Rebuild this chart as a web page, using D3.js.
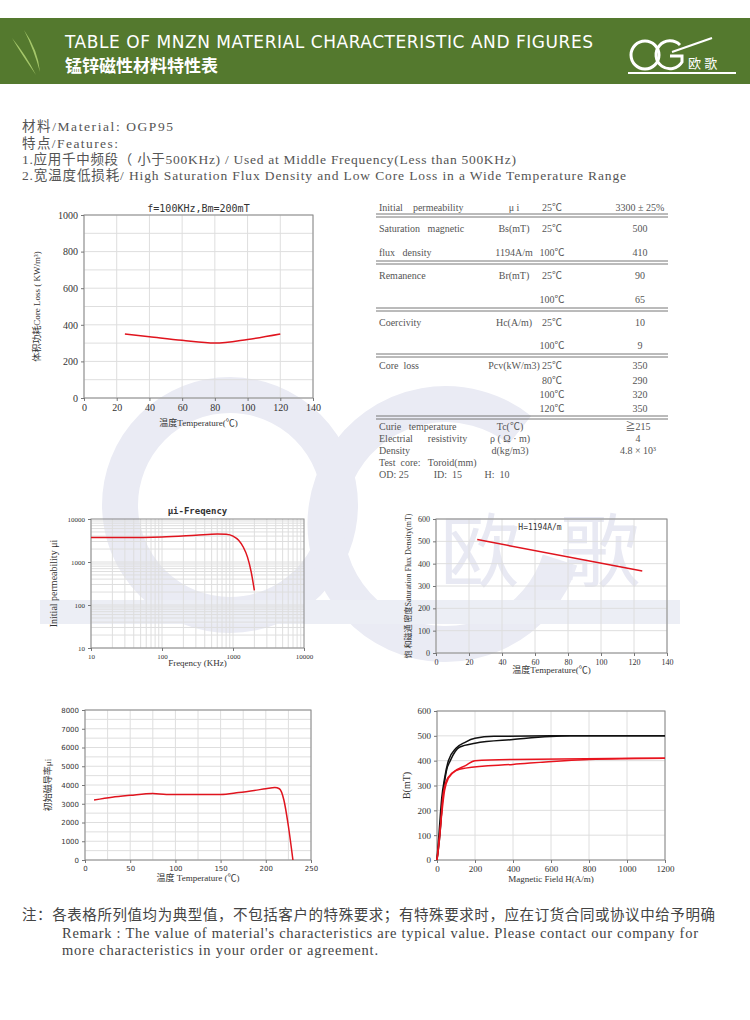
<!DOCTYPE html>
<meta charset="utf-8">
<style>
body { margin: 0; background: #fff; }
svg text { font-family: "Liberation Serif", "Noto Sans CJK SC", serif; fill: #333; white-space: pre; }
.grid line { stroke: #dedede; }
.axis path, .axis line { stroke: #777; }
.axis text { fill: #333; }
</style>
<body>
<script src="https://cdn.jsdelivr.net/npm/d3@7"></script>
<script>
var width = 750, height = 1020;

// core loss vs temperature
var lossTemp = [25, 40, 60, 80, 100, 120],
    lossVal = [350, 335, 315, 300, 320, 350];
// permeability vs frequency (KHz)
var freq = [10, 30, 100, 300, 600, 800, 1000, 1200, 1400, 1600, 1800, 2000],
    freqMu = [3700, 3700, 3800, 4200, 4500, 4400, 4000, 3200, 2200, 1300, 600, 220];
// saturation flux density vs temperature
var bsTemp = [25, 125],
    bsVal = [508, 367];
// permeability vs temperature
var muTemp = [10, 30, 50, 75, 90, 120, 150, 170, 200, 210, 215, 220, 225, 230],
    muVal = [3200, 3350, 3450, 3550, 3500, 3500, 3500, 3600, 3800, 3870, 3800, 3200, 1800, 0];
// B-H curves
var bh25UpH = [0, 10, 25, 40, 60, 100, 150, 200, 300, 600, 1200],
    bh25UpB = [0, 100, 250, 330, 400, 450, 475, 490, 498, 500, 500],
    bh25LoH = [0, 15, 30, 50, 70, 120, 200, 400, 700, 1200],
    bh25LoB = [0, 100, 250, 360, 400, 455, 470, 485, 500, 500],
    bh100UpH = [0, 15, 30, 50, 80, 150, 200, 400, 1200],
    bh100UpB = [0, 100, 250, 320, 350, 380, 400, 405, 410],
    bh100LoH = [0, 20, 40, 60, 100, 150, 400, 800, 1200],
    bh100LoB = [0, 150, 280, 330, 360, 370, 385, 405, 410];

var tableRows = [
  ["Initial    permeability", "\u03bc i", "25\u2103", "3300 \u00b1 25%", 207],
  ["Saturation   magnetic", "Bs(mT)", "25\u2103", "500", 228],
  ["flux   density", "1194A/m", "100\u2103", "410", 252],
  ["Remanence", "Br(mT)", "25\u2103", "90", 275],
  ["", "", "100\u2103", "65", 299],
  ["Coercivity", "Hc(A/m)", "25\u2103", "10", 322],
  ["", "", "100\u2103", "9", 345],
  ["Core  loss", "Pcv(kW/m3)", "25\u2103", "350", 365],
  ["", "", "80\u2103", "290", 380],
  ["", "", "100\u2103", "320", 394],
  ["", "", "120\u2103", "350", 408]
];
var tableRules = [214, 261, 308, 354, 416];
var extraRows = [
  ["Curie   temperature", "Tc(\u2103)", "\u2267215", 426],
  ["Electrial      resistivity", "\u03c1 ( \u03a9 \u00b7 m)", "4", 438],
  ["Density", "d(kg/m3)", "4.8 \u00d7 10\u00b3", 450],
  ["Test  core:   Toroid(mm)", "", "", 462],
  ["OD: 25          ID:  15         H:  10", "", "", 474]
];

var svg = d3.select("body").append("svg").attr("width", width).attr("height", height);

// watermark
var wm = svg.append("g").attr("fill", "none").attr("stroke", "#eaebf4");
wm.append("circle").attr("cx", 230).attr("cy", 505).attr("r", 110).attr("stroke-width", 36);
wm.append("path").attr("d", "M520,430 A120,120 0 1 0 560,560").attr("stroke-width", 36);
svg.append("rect").attr("x", 40).attr("y", 600).attr("width", 640).attr("height", 24).attr("fill", "#eceef5");
svg.append("text").attr("x", 440).attr("y", 580).attr("font-size", 80)
  .style("fill", "#e8e9f3").text("欧  歌");

// header
svg.append("rect").attr("x", 0).attr("y", 18).attr("width", width).attr("height", 66).attr("fill", "#54792e");
svg.append("path").attr("d", "M12,38 Q22,55 36,75 Q26,55 12,38Z M24,30 Q34,50 40,72 Q38,50 24,30Z").attr("fill", "#a5c76a");
svg.append("text").attr("x", 65).attr("y", 48).attr("font-size", 17).attr("textLength", 528)
  .style("font-family", "DejaVu Sans").style("fill", "#fff").text("TABLE OF MNZN MATERIAL CHARACTERISTIC AND FIGURES");
svg.append("text").attr("x", 65).attr("y", 72).attr("font-size", 17)
  .style("font-family", "Noto Sans CJK SC").style("font-weight", "bold").style("fill", "#fff").text("锰锌磁性材料特性表");
var logo = svg.append("g").attr("fill", "none").attr("stroke", "#fff").attr("stroke-width", 3);
logo.append("ellipse").attr("cx", 645).attr("cy", 55).attr("rx", 14).attr("ry", 14);
logo.append("path").attr("d", "M680,45 A14,14 0 1 0 682,62 L682,56 L670,56");
logo.append("path").attr("d", "M672,52 L712,38").attr("stroke-width", 2);
svg.append("line").attr("x1", 628).attr("x2", 736).attr("y1", 73).attr("y2", 73).attr("stroke", "#fff").attr("stroke-width", 2);
svg.append("text").attr("x", 688).attr("y", 68).attr("font-size", 13).style("fill", "#fff").text("欧 歌");

// intro text
var intro = [["材料/Material: OGP95", 131, 151], ["特点/Features:", 148, 96],
  ["1.应用千中频段（ 小于500KHz) / Used at Middle Frequency(Less than 500KHz)", 164, 494],
  ["2.宽温度低损耗/ High Saturation Flux Density and Low Core Loss in a Wide Temperature Range", 180, 604]];
svg.selectAll(".intro").data(intro).enter().append("text")
  .attr("x", 22).attr("y", function(d) { return d[1]; }).attr("textLength", function(d) { return d[2]; })
  .attr("font-size", 13.5).style("fill", "#555").text(function(d) { return d[0]; });

// table
var tb = svg.append("g").attr("font-size", 10);
tb.selectAll(".rule").data(tableRules).enter().append("g").each(function(y) {
  d3.select(this).append("line").attr("x1", 376).attr("x2", 668).attr("y1", y).attr("y2", y).attr("stroke", "#777");
  d3.select(this).append("line").attr("x1", 376).attr("x2", 668).attr("y1", y + 3).attr("y2", y + 3).attr("stroke", "#777");
});
tableRows.forEach(function(r) {
  tb.append("text").attr("x", 379).attr("y", r[4] + 4).text(r[0]).style("fill", "#555");
  tb.append("text").attr("x", 514).attr("y", r[4] + 4).attr("text-anchor", "middle").text(r[1]).style("fill", "#555");
  tb.append("text").attr("x", 552).attr("y", r[4] + 4).attr("text-anchor", "middle").text(r[2]).style("fill", "#555");
  tb.append("text").attr("x", 640).attr("y", r[4] + 4).attr("text-anchor", "middle").text(r[3]).style("fill", "#555");
});
extraRows.forEach(function(r) {
  tb.append("text").attr("x", 379).attr("y", r[3] + 4).text(r[0]).style("fill", "#555");
  tb.append("text").attr("x", 510).attr("y", r[3] + 4).attr("text-anchor", "middle").text(r[1]).style("fill", "#555");
  tb.append("text").attr("x", 638).attr("y", r[3] + 4).attr("text-anchor", "middle").text(r[2]).style("fill", "#555");
});

// generic chart
function chart(o) {
  var g = svg.append("g");
  var x = (o.xlog ? d3.scaleLog() : d3.scaleLinear()).domain(o.xd).range([o.x0, o.x1]);
  var y = (o.ylog ? d3.scaleLog() : d3.scaleLinear()).domain(o.yd).range([o.y1, o.y0]);
  var grid = g.append("g").attr("class", "grid");
  grid.selectAll(".vx").data(o.gx).enter().append("line")
    .attr("x1", x).attr("x2", x).attr("y1", o.y0).attr("y2", o.y1);
  grid.selectAll(".hy").data(o.gy).enter().append("line")
    .attr("y1", y).attr("y2", y).attr("x1", o.x0).attr("x2", o.x1);
  g.append("rect").attr("x", o.x0).attr("y", o.y0).attr("width", o.x1 - o.x0).attr("height", o.y1 - o.y0)
    .attr("fill", "none").attr("stroke", "#888");
  var xa = d3.axisBottom(x).tickValues(o.xtv).tickSize(3).tickFormat(d3.format("d"));
  var ya = d3.axisLeft(y).tickValues(o.ytv).tickSize(3).tickFormat(d3.format("d"));
  g.append("g").attr("class", "axis").attr("transform", "translate(0," + o.y1 + ")").call(xa)
    .call(function(s) { s.select(".domain").remove(); })
    .selectAll("text").attr("font-size", o.fs).style("font-family", o.ff || null);
  g.append("g").attr("class", "axis").attr("transform", "translate(" + o.x0 + ",0)").call(ya)
    .call(function(s) { s.select(".domain").remove(); })
    .selectAll("text").attr("font-size", o.fs).style("font-family", o.ff || null);
  var line = d3.line().x(function(d) { return x(d[0]); }).y(function(d) { return y(d[1]); });
  o.series.forEach(function(s) {
    line.curve(s.linear ? d3.curveLinear : d3.curveMonotoneX);
    g.append("path").datum(d3.zip(s.x, s.y)).attr("d", line)
      .attr("fill", "none").attr("stroke", s.c).attr("stroke-width", 1.5);
  });
  if (o.title) g.append("text").attr("x", o.tx || (o.x0 + o.x1) / 2).attr("y", o.ty)
    .attr("text-anchor", "middle").attr("font-size", o.tfs || 10).style("font-family", "DejaVu Sans Mono")
    .style("font-weight", o.tb ? "bold" : null).text(o.title);
  g.append("text").attr("x", (o.x0 + o.x1) / 2).attr("y", o.xly).attr("text-anchor", "middle")
    .attr("font-size", 9).text(o.xl);
  g.append("text").attr("transform", "translate(" + o.ylx + "," + ((o.y0 + o.y1) / 2) + ") rotate(-90)")
    .attr("text-anchor", "middle").attr("font-size", o.ylfs || 9).text(o.yl);
  return g;
}

chart({ x0: 84, x1: 313, y0: 215, y1: 398, xd: [0, 140], yd: [0, 1000],
  xtv: d3.range(0, 141, 20), ytv: d3.range(0, 1001, 200), gx: d3.range(0, 141, 20), gy: d3.range(0, 1001, 100),
  series: [{ x: lossTemp, y: lossVal, c: "#e0141e" }], fs: 10,
  title: "f=100KHz,Bm=200mT", ty: 212, xl: "温度Temperature(℃)", xly: 426,
  yl: "体积功耗Core Loss ( KW/m³)", ylx: 40 });

var fgx = [], fgy = [];
[10, 100, 1000].forEach(function(b) { for (var i = 1; i < 10; i++) { fgx.push(b * i); fgy.push(b * i); } });
chart({ x0: 91, x1: 304, y0: 519, y1: 648, xd: [10, 10000], yd: [10, 10000], xlog: true, ylog: true,
  xtv: [10, 100, 1000, 10000], ytv: [10, 100, 1000, 10000], gx: fgx, gy: fgy,
  series: [{ x: freq, y: freqMu, c: "#e0141e" }], fs: 7,
  title: "μi-Freqency", ty: 514, tb: true, tfs: 9, xl: "Freqency (KHz)", xly: 666,
  yl: "Initial permeability μi", ylx: 57, ylfs: 10 });

chart({ x0: 436, x1: 667, y0: 519, y1: 653, xd: [0, 140], yd: [0, 600],
  xtv: d3.range(0, 141, 20), ytv: d3.range(0, 601, 100), gx: d3.range(0, 141, 20), gy: d3.range(0, 601, 100),
  series: [{ x: bsTemp, y: bsVal, c: "#e0141e", linear: true }], fs: 8,
  title: "H=1194A/m", tx: 540, ty: 530, tfs: 8, xl: "温度Temperature(℃)", xly: 673,
  yl: "饱 和磁通 密度Saturation Flux Density(mT)", ylx: 411, ylfs: 8 });

chart({ x0: 85, x1: 311, y0: 710, y1: 860, xd: [0, 250], yd: [0, 8000],
  xtv: d3.range(0, 251, 50), ytv: d3.range(0, 8001, 1000), gx: d3.range(0, 251, 25), gy: d3.range(0, 8001, 500),
  series: [{ x: muTemp, y: muVal, c: "#e0141e" }], fs: 7, ff: "DejaVu Sans",
  xl: "温度 Temperature (℃)", xly: 881, yl: "初始磁导率μi", ylx: 51 });

chart({ x0: 437, x1: 665, y0: 711, y1: 860, xd: [0, 1200], yd: [0, 600],
  xtv: d3.range(0, 1201, 200), ytv: d3.range(0, 601, 100), gx: d3.range(0, 1201, 200), gy: d3.range(0, 601, 100),
  series: [{ x: bh25UpH, y: bh25UpB, c: "#111" }, { x: bh25LoH, y: bh25LoB, c: "#111" },
           { x: bh100UpH, y: bh100UpB, c: "#e8141e" }, { x: bh100LoH, y: bh100LoB, c: "#e8141e" }],
  fs: 9, xl: "Magnetic Field H(A/m)", xly: 882, yl: "B(mT)", ylx: 410, ylfs: 10 });

// remark
var remark = [["注：各表格所列值均为典型值，不包括客户的特殊要求；有特殊要求时，应在订货合同或协议中给予明确", 22, 920, 693],
  ["Remark : The value of material's characteristics are typical value. Please contact our company for", 62, 938, 636],
  ["more characteristics in your order or agreement.", 62, 955, 316]];
svg.selectAll(".remark").data(remark).enter().append("text")
  .attr("x", function(d) { return d[1]; }).attr("y", function(d) { return d[2]; })
  .attr("textLength", function(d) { return d[3]; })
  .attr("font-size", 14.5).style("fill", "#444").text(function(d) { return d[0]; });
</script>
